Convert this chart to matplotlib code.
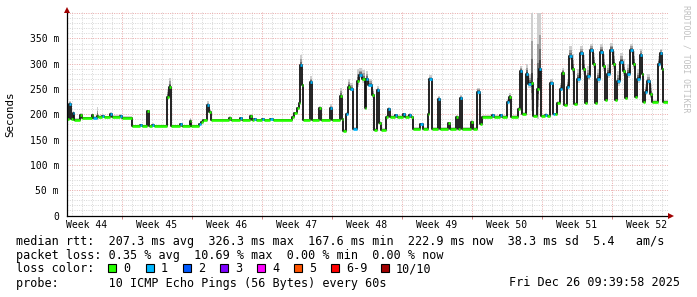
import matplotlib
matplotlib.use("Agg")
import matplotlib.pyplot as plt
import numpy as np
from matplotlib.patches import Rectangle

# ---------------- data ----------------
# sample start times, days since the Monday of Week 44
t_start = [
    1.5, 1.7, 1.9, 2.1, 2.2, 2.8, 3.0, 4.0, 4.1, 4.5,
    4.6, 5.0, 5.2, 5.8, 6.0, 6.8, 7.0, 8.0, 8.8, 9.0,
    9.5, 9.7, 10.0, 10.2, 11.5, 11.7, 11.9, 12.8, 13.0, 13.8,
    13.9, 14.7, 14.9, 15.1, 15.5, 15.7, 15.9, 17.7, 17.9, 18.8,
    19.0, 19.8, 20.0, 20.2, 20.4, 21.0, 21.2, 21.8, 22.1, 24.0,
    24.2, 24.5, 24.7, 24.8, 25.0, 25.1, 25.8, 26.0, 26.7, 26.9,
    27.8, 28.0, 28.8, 29.0, 29.1, 29.4, 29.6, 29.8, 30.1, 30.5,
    30.7, 31.0, 31.3, 31.4, 31.6, 32.0, 32.2, 32.5, 32.7, 32.9,
    33.4, 33.6, 33.8, 34.3, 34.5, 35.1, 35.3, 35.7, 35.9, 36.1,
    36.8, 37.1, 37.6, 37.7, 38.0, 38.6, 38.8, 39.6, 39.8, 40.4,
    40.6, 40.8, 41.0, 41.9, 42.1, 42.5, 42.8, 43.0, 44.0, 44.2,
    44.8, 45.0, 45.5, 45.7, 45.9, 46.6, 46.8, 47.0, 47.4, 47.6,
    47.9, 48.1, 48.5, 48.7, 48.9, 49.3, 49.5, 49.8, 50.1, 50.3,
    50.5, 50.8, 51.0, 51.2, 51.5, 51.7, 52.0, 52.2, 52.5, 52.8,
    53.1, 53.3, 53.5, 53.8, 54.1, 54.3, 54.5, 54.8, 55.1, 55.3,
    55.5, 55.8, 56.1, 56.3, 56.5, 56.8, 57.1, 57.3, 57.5, 57.8,
    58.1, 58.3, 58.5, 58.8, 59.0, 59.1, 59.3, 59.5, 59.8, 60.0,
    60.6, 60.8, 61.0, 61.1,
]
t_end = 61.6

# median rtt (ms)
median_ms = [
    190, 220, 190, 203, 189, 199, 192, 199, 193, 196,
    195, 197, 194, 200, 195, 197, 193, 176, 178, 176,
    206, 176, 179, 176, 235, 255, 176, 180, 176, 186,
    176, 180, 185, 188, 218, 205, 188, 193, 188, 192,
    188, 197, 188, 190, 188, 190, 188, 190, 188, 195,
    202, 212, 222, 297, 258, 188, 263, 188, 212, 188,
    213, 188, 237, 190, 168, 200, 255, 250, 172, 265,
    278, 270, 212, 270, 258, 238, 170, 248, 182, 170,
    195, 210, 195, 198, 195, 200, 195, 199, 195, 172,
    180, 172, 200, 270, 172, 230, 172, 182, 172, 195,
    172, 232, 172, 185, 172, 245, 180, 195, 198, 195,
    198, 195, 225, 235, 195, 210, 285, 200, 280, 260,
    262, 197, 250, 290, 197, 199, 197, 262, 200, 200,
    222, 250, 282, 218, 255, 315, 290, 220, 270, 321,
    290, 222, 275, 327, 300, 222, 270, 324, 295, 228,
    280, 327, 300, 228, 265, 304, 285, 232, 280, 327,
    300, 235, 270, 317, 280, 225, 245, 265, 240, 225,
    300, 321, 290, 225,
]

# highest ping of each sample (top of the smoke, ms)
max_ms = [
    193, 226, 193, 206, 192, 203, 195, 203, 196, 215,
    198, 201, 197, 204, 198, 200, 196, 179, 181, 179,
    209, 179, 182, 179, 250, 272, 179, 183, 179, 193,
    179, 183, 188, 191, 226, 210, 191, 196, 191, 195,
    191, 201, 191, 193, 191, 193, 191, 193, 191, 198,
    205, 215, 226, 318, 265, 191, 276, 191, 216, 191,
    220, 191, 252, 193, 171, 204, 270, 262, 175, 290,
    292, 288, 220, 286, 270, 250, 173, 256, 186, 173,
    198, 214, 198, 201, 198, 203, 198, 202, 198, 175,
    183, 175, 205, 278, 175, 236, 175, 185, 175, 199,
    175, 238, 175, 188, 175, 252, 183, 198, 201, 198,
    201, 198, 230, 242, 198, 214, 296, 204, 300, 280,
    400, 200, 400, 400, 200, 202, 200, 270, 203, 203,
    226, 262, 292, 222, 270, 335, 320, 224, 290, 335,
    318, 226, 295, 340, 322, 226, 290, 340, 320, 232,
    300, 342, 325, 232, 285, 322, 310, 236, 300, 340,
    325, 240, 290, 330, 305, 229, 260, 280, 260, 229,
    315, 330, 310, 229,
]

# lost packets per sample (out of 10)
lost = [
    0, 1, 0, 1, 0, 0, 0, 0, 1, 0,
    0, 1, 0, 1, 0, 1, 0, 0, 1, 0,
    0, 0, 1, 0, 0, 0, 0, 1, 0, 0,
    0, 1, 0, 0, 1, 0, 0, 0, 0, 1,
    0, 0, 0, 1, 0, 1, 0, 1, 0, 0,
    0, 0, 0, 1, 0, 0, 1, 0, 0, 0,
    1, 0, 0, 0, 0, 1, 0, 1, 1, 0,
    1, 0, 0, 1, 1, 0, 0, 1, 0, 0,
    0, 1, 0, 1, 0, 1, 0, 1, 0, 0,
    1, 0, 0, 1, 0, 1, 0, 0, 0, 0,
    0, 1, 0, 0, 0, 1, 0, 0, 1, 0,
    1, 0, 1, 0, 0, 0, 1, 0, 1, 1,
    0, 0, 0, 1, 0, 1, 0, 1, 1, 0,
    0, 1, 0, 0, 1, 1, 0, 0, 1, 1,
    0, 0, 1, 1, 0, 0, 1, 1, 0, 0,
    1, 1, 0, 0, 1, 1, 0, 0, 1, 1,
    0, 0, 1, 1, 0, 0, 1, 1, 0, 0,
    1, 1, 0, 0,
]

week_labels = ["Week 44", "Week 45", "Week 46", "Week 47", "Week 48",
               "Week 49", "Week 50", "Week 51", "Week 52"]
y_ticks = [0, 50, 100, 150, 200, 250, 300, 350]
y_tick_labels = ["0", "50 m", "100 m", "150 m", "200 m", "250 m", "300 m", "350 m"]

loss_names = ["0", "1", "2", "3", "4", "5", "6-9", "10/10"]
loss_colors = ["#26ff00", "#00b8ff", "#0059ff", "#7e00ff", "#ff00ff",
               "#ff5500", "#ff0000", "#a10000"]

stats_line1 = "median rtt:  207.3 ms avg  326.3 ms max  167.6 ms min  222.9 ms now  38.3 ms sd  5.4   am/s"
stats_line2 = "packet loss: 0.35 % avg  10.69 % max  0.00 % min  0.00 % now"
probe_line = "probe:       10 ICMP Echo Pings (56 Bytes) every 60s"
date_text = "Fri Dec 26 09:39:58 2025"

# ---------------- figure ----------------
W, H = 697, 297
fig = plt.figure(figsize=(W / 100, H / 100), dpi=100)
fig.patch.set_facecolor("white")

def fx(x):
    return x / W

def fy(y):
    return 1 - y / H

L, R, T, B = 67, 668, 12, 215.5
ax = fig.add_axes([fx(L), fy(B), (R - L) / W, (B - T) / H])
ax.set_facecolor("white")
ax.set_xlim(1.5, 61.6)
ax.set_ylim(0, 402.4)

mono = "DejaVu Sans Mono"

# grid
dot = (0, (1.0, 1.4))
for d in np.arange(2, 62, 1):
    if d % 7 == 0:
        continue
    ax.axvline(d, color="#d6d6d6", lw=0.7, ls=dot, zorder=0)
for v in np.arange(10, 401, 10):
    if v % 50 == 0:
        continue
    ax.axhline(v, color="#d6d6d6", lw=0.7, ls=dot, zorder=0)
for d in np.arange(7, 62, 7):
    ax.axvline(d, color="#e8a8a8", lw=0.7, ls=dot, zorder=0.5)
for v in np.arange(50, 401, 50):
    ax.axhline(v, color="#e8a8a8", lw=0.7, ls=dot, zorder=0.5)

# smoke
t_edges = np.array(t_start + [t_end])
med = np.array(median_ms, dtype=float)
mx = np.array(max_ms, dtype=float)
spread = mx - med
lo = med - 0.4 * spread
fracs = [1.0, 0.6, 0.35, 0.15]
shades = ["#cfcfcf", "#a0a0a0", "#6e6e6e", "#404040"]
for f, c in zip(fracs, shades):
    upper = med + f * spread
    lower = med - f * (med - lo)
    ax.fill_between(t_edges, np.append(lower, lower[-1]), np.append(upper, upper[-1]),
                    step="post", color=c, lw=0, zorder=1)

# median line (black transitions) and loss-coloured median marks
ax.step(t_edges, np.append(med, med[-1]), where="post", color="#111111", lw=1.3, zorder=2)
seg_colors = [loss_colors[k if k < 6 else (7 if k >= 10 else 6)] for k in lost]
ax.hlines(med, t_edges[:-1], t_edges[1:], colors=seg_colors, lw=1.9, zorder=3)

# axes
for s in ["top", "right", "left", "bottom"]:
    ax.spines[s].set_visible(False)

ax.set_yticks(y_ticks)
ax.set_yticklabels(y_tick_labels, fontfamily=mono, fontsize=7)
ax.tick_params(axis="y", length=0, pad=5.8)

ax.set_xticks(np.arange(7, 57, 7))
ax.set_xticklabels([])
ax.tick_params(axis="x", which="major", length=2.5, color="#d08080", width=0.7)
ax.set_xticks(np.arange(3.5, 60, 7), minor=True)
ax.set_xticklabels(week_labels, minor=True, fontfamily=mono, fontsize=7)
ax.tick_params(axis="x", which="minor", length=0, pad=3.0)

# axis lines and arrows
ax.plot([0, 1.0 + 2 / (R - L)], [0, 0], color="black", lw=0.9,
        transform=ax.transAxes, clip_on=False, zorder=5)
ax.plot([0, 0], [0, 1.0 + 2 / (B - T)], color="black", lw=0.9,
        transform=ax.transAxes, clip_on=False, zorder=5)
ax.plot([0], [1.0 + 2 / (B - T)], marker="^", ms=4.5, color="#a00000",
        transform=ax.transAxes, clip_on=False, zorder=6, mew=0)
ax.plot([1.0 + 3 / (R - L)], [0], marker=">", ms=4.5, color="#a00000",
        transform=ax.transAxes, clip_on=False, zorder=6, mew=0)

# y label and watermark
fig.text(fx(10), fy(114), "Seconds", rotation=90, ha="center", va="center",
         fontfamily=mono, fontsize=7.8)
fig.text(fx(686), fy(5), "RRDTOOL / TOBI OETIKER", rotation=270, ha="center", va="top",
         fontfamily=mono, fontsize=5.9, color="#c0c0c0")

# legend / stats text
fs = 8.5
fig.text(fx(16), fy(241), stats_line1, fontfamily=mono, fontsize=fs, va="center", ha="left")
fig.text(fx(16), fy(255), stats_line2, fontfamily=mono, fontsize=fs, va="center", ha="left")
fig.text(fx(16), fy(269), "loss color:", fontfamily=mono, fontsize=fs, va="center", ha="left")
fig.text(fx(16), fy(283), probe_line, fontfamily=mono, fontsize=fs, va="center", ha="left")
fig.text(fx(680), fy(283), date_text, fontfamily=mono, fontsize=fs, va="center", ha="right")

sq_x = [108, 146, 183, 220, 257, 294, 331, 381]
for xs, name, col in zip(sq_x, loss_names, loss_colors):
    fig.patches.append(Rectangle((fx(xs), fy(271.5)), 8 / W, 8 / H, transform=fig.transFigure,
                                 facecolor=col, edgecolor="black", lw=0.8))
    fig.text(fx(xs + 15), fy(269), name, fontfamily=mono, fontsize=fs, va="center", ha="left")

fig.savefig("out.png", dpi=100, facecolor="white")
